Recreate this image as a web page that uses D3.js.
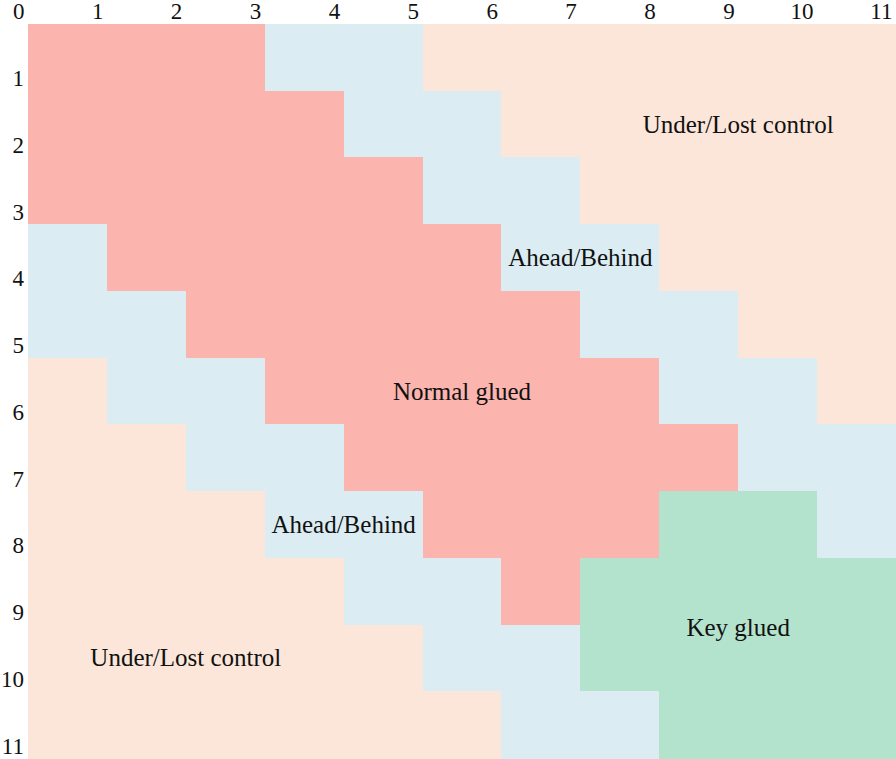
<!DOCTYPE html>
<html>
<head>
<meta charset="utf-8">
<script src="https://cdn.jsdelivr.net/npm/d3@7"></script>
<style>
	body { margin: 0; background: #fff; }
	svg { display: block; font-family: "Liberation Serif", "Times New Roman", serif; }
</style>
</head>
<body>
<figure id="zoneChart" style="margin:0"></figure>
<script>
// zone names and colours
const zoneNames = ["Normal glued", "Ahead/Behind", "Under/Lost control", "Key glued"];
const zoneColors = ["#fbb4ae", "#dbedf3", "#fce6d9", "#b3e2cd"];

// one string per row, one char per column: N normal, A ahead/behind, U under/lost, K key
const gridRows = [
	"NNNAAUUUUUU",
	"NNNNAAUUUUU",
	"NNNNNAAUUUU",
	"ANNNNNAAUUU",
	"AANNNNNAAUU",
	"UAANNNNNAAU",
	"UUAANNNNNAA",
	"UUUAANNNKKA",
	"UUUUAANKKKK",
	"UUUUUAAKKKK",
	"UUUUUUAAKKK"
];
const codeIndex = { N: 0, A: 1, U: 2, K: 3 };

// text labels placed in grid units (center)
const labelText = ["Under/Lost control", "Ahead/Behind", "Normal glued", "Ahead/Behind", "Key glued", "Under/Lost control"];
const labelX = [9.0, 7.0, 5.5, 4.0, 9.0, 2.0];
const labelY = [1.5, 3.5, 5.5, 7.5, 9.05, 9.5];

const tickValues = d3.range(0, 12);

const width = 896, height = 759;
const margin = { top: 24, left: 28, right: 0, bottom: 1 };

const svg = d3.select("#zoneChart").append("svg")
	.attr("width", width).attr("height", height);

const nCols = gridRows[0].length;
const nRows = gridRows.length;

const xScale = d3.scaleLinear().domain([0, nCols]).range([margin.left, width - margin.right]);
const yScale = d3.scaleLinear().domain([0, nRows]).range([margin.top, height - margin.bottom]);

// flatten rows into cells
const cells = [];
gridRows.forEach((row, r) => {
	row.split("").forEach((ch, c) => cells.push({ r: r, c: c, z: codeIndex[ch] }));
});

svg.append("g").attr("shape-rendering", "crispEdges")
	.selectAll("rect").data(cells).enter().append("rect")
	.attr("x", (d) => xScale(d.c))
	.attr("y", (d) => yScale(d.r))
	.attr("width", (d) => xScale(d.c + 1) - xScale(d.c) + 1)
	.attr("height", (d) => yScale(d.r + 1) - yScale(d.r) + 1)
	.attr("fill", (d) => zoneColors[d.z]);

// zone labels
svg.append("g").selectAll("text").data(labelText).enter().append("text")
	.attr("x", (d, i) => xScale(labelX[i]))
	.attr("y", (d, i) => yScale(labelY[i]))
	.attr("text-anchor", "middle")
	.attr("dominant-baseline", "central")
	.attr("font-size", 25)
	.attr("fill", "#111")
	.text((d) => d);

// top axis, labels sit left of each grid line
const xAxis = svg.append("g")
	.attr("transform", "translate(0," + margin.top + ")")
	.call(d3.axisTop(xScale).tickValues(tickValues).tickSize(0).tickFormat(d3.format("d")));
xAxis.attr("font-family", null).attr("font-size", null);
xAxis.select(".domain").remove();
xAxis.selectAll(".tick text")
	.attr("font-size", 23)
	.attr("fill", "#111")
	.attr("text-anchor", "end")
	.attr("x", -4)
	.attr("y", -5)
	.attr("dy", null);

// left axis, labels sit just above each grid line
const yAxis = svg.append("g")
	.attr("transform", "translate(" + margin.left + ",0)")
	.call(d3.axisLeft(yScale).tickValues(tickValues.slice(1)).tickSize(0).tickFormat(d3.format("d")));
yAxis.attr("font-family", null).attr("font-size", null);
yAxis.select(".domain").remove();
yAxis.selectAll(".tick text")
	.attr("font-size", 23)
	.attr("fill", "#111")
	.attr("text-anchor", "end")
	.attr("x", -4)
	.attr("y", -5)
	.attr("dy", null);
</script>
</body>
</html>
